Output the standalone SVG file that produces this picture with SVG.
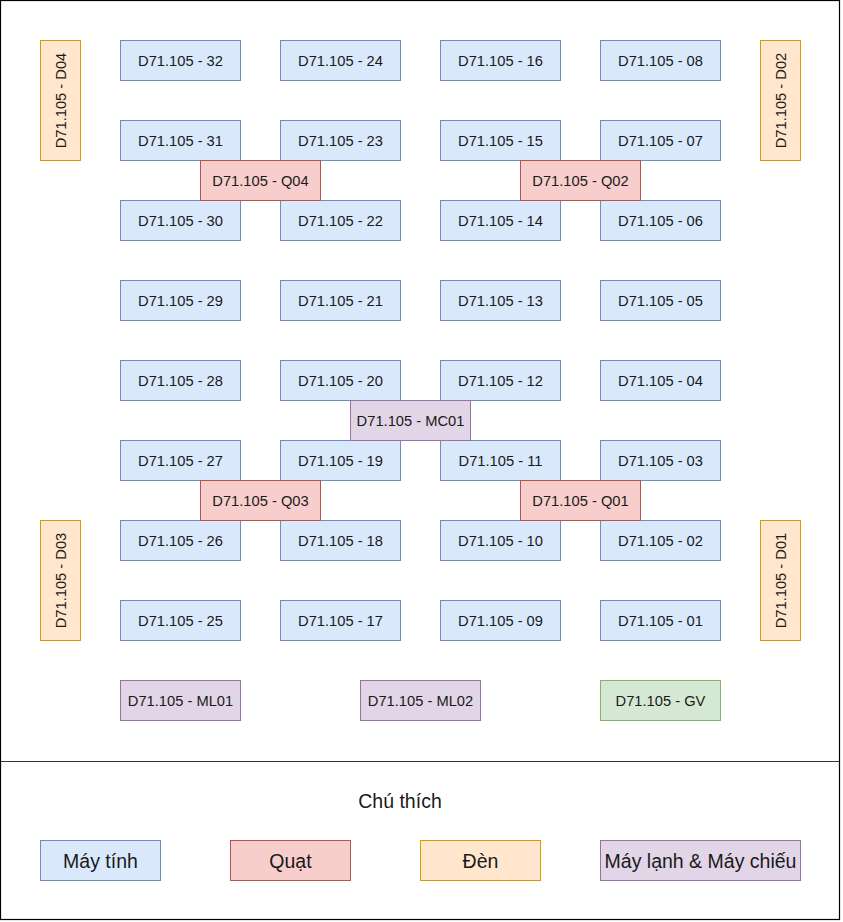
<svg xmlns="http://www.w3.org/2000/svg" width="843" height="922" viewBox="0 0 843 922">
<style>
text{font-family:"Liberation Sans",Arial,sans-serif;fill:#1a1a1a;text-anchor:middle;dominant-baseline:central}
.n{font-size:14.7px}
.l{font-size:19.5px}
.pc{fill:#dae8fc;stroke:#6c8ebf;stroke-width:1}
.fan{fill:#f8cecc;stroke:#b85450;stroke-width:1}
.lamp{fill:#ffe6cc;stroke:#d79b00;stroke-width:1}
.ac{fill:#e1d5e7;stroke:#9673a6;stroke-width:1}
.gv{fill:#d5e8d4;stroke:#82b366;stroke-width:1}
</style>
<rect x="0" y="0" width="843" height="922" fill="#ffffff"/>
<g id="frame">
<rect x="0.5" y="0.5" width="839" height="919" fill="none" stroke="#000" stroke-width="1.2"/>
<line x1="0.5" y1="761.5" x2="839.5" y2="761.5" stroke="#333" stroke-width="1.2"/>
</g>
<g id="connectors"></g>
<!-- column 1 -->
<g id="pc32"><rect class="pc" x="120.5" y="40.5" width="120" height="40"/><text class="n" x="180.5" y="60.5">D71.105 - 32</text></g>
<g id="pc31"><rect class="pc" x="120.5" y="120.5" width="120" height="40"/><text class="n" x="180.5" y="140.5">D71.105 - 31</text></g>
<g id="pc30"><rect class="pc" x="120.5" y="200.5" width="120" height="40"/><text class="n" x="180.5" y="220.5">D71.105 - 30</text></g>
<g id="pc29"><rect class="pc" x="120.5" y="280.5" width="120" height="40"/><text class="n" x="180.5" y="300.5">D71.105 - 29</text></g>
<g id="pc28"><rect class="pc" x="120.5" y="360.5" width="120" height="40"/><text class="n" x="180.5" y="380.5">D71.105 - 28</text></g>
<g id="pc27"><rect class="pc" x="120.5" y="440.5" width="120" height="40"/><text class="n" x="180.5" y="460.5">D71.105 - 27</text></g>
<g id="pc26"><rect class="pc" x="120.5" y="520.5" width="120" height="40"/><text class="n" x="180.5" y="540.5">D71.105 - 26</text></g>
<g id="pc25"><rect class="pc" x="120.5" y="600.5" width="120" height="40"/><text class="n" x="180.5" y="620.5">D71.105 - 25</text></g>
<!-- column 2 -->
<g id="pc24"><rect class="pc" x="280.5" y="40.5" width="120" height="40"/><text class="n" x="340.5" y="60.5">D71.105 - 24</text></g>
<g id="pc23"><rect class="pc" x="280.5" y="120.5" width="120" height="40"/><text class="n" x="340.5" y="140.5">D71.105 - 23</text></g>
<g id="pc22"><rect class="pc" x="280.5" y="200.5" width="120" height="40"/><text class="n" x="340.5" y="220.5">D71.105 - 22</text></g>
<g id="pc21"><rect class="pc" x="280.5" y="280.5" width="120" height="40"/><text class="n" x="340.5" y="300.5">D71.105 - 21</text></g>
<g id="pc20"><rect class="pc" x="280.5" y="360.5" width="120" height="40"/><text class="n" x="340.5" y="380.5">D71.105 - 20</text></g>
<g id="pc19"><rect class="pc" x="280.5" y="440.5" width="120" height="40"/><text class="n" x="340.5" y="460.5">D71.105 - 19</text></g>
<g id="pc18"><rect class="pc" x="280.5" y="520.5" width="120" height="40"/><text class="n" x="340.5" y="540.5">D71.105 - 18</text></g>
<g id="pc17"><rect class="pc" x="280.5" y="600.5" width="120" height="40"/><text class="n" x="340.5" y="620.5">D71.105 - 17</text></g>
<!-- column 3 -->
<g id="pc16"><rect class="pc" x="440.5" y="40.5" width="120" height="40"/><text class="n" x="500.5" y="60.5">D71.105 - 16</text></g>
<g id="pc15"><rect class="pc" x="440.5" y="120.5" width="120" height="40"/><text class="n" x="500.5" y="140.5">D71.105 - 15</text></g>
<g id="pc14"><rect class="pc" x="440.5" y="200.5" width="120" height="40"/><text class="n" x="500.5" y="220.5">D71.105 - 14</text></g>
<g id="pc13"><rect class="pc" x="440.5" y="280.5" width="120" height="40"/><text class="n" x="500.5" y="300.5">D71.105 - 13</text></g>
<g id="pc12"><rect class="pc" x="440.5" y="360.5" width="120" height="40"/><text class="n" x="500.5" y="380.5">D71.105 - 12</text></g>
<g id="pc11"><rect class="pc" x="440.5" y="440.5" width="120" height="40"/><text class="n" x="500.5" y="460.5">D71.105 - 11</text></g>
<g id="pc10"><rect class="pc" x="440.5" y="520.5" width="120" height="40"/><text class="n" x="500.5" y="540.5">D71.105 - 10</text></g>
<g id="pc09"><rect class="pc" x="440.5" y="600.5" width="120" height="40"/><text class="n" x="500.5" y="620.5">D71.105 - 09</text></g>
<!-- column 4 -->
<g id="pc08"><rect class="pc" x="600.5" y="40.5" width="120" height="40"/><text class="n" x="660.5" y="60.5">D71.105 - 08</text></g>
<g id="pc07"><rect class="pc" x="600.5" y="120.5" width="120" height="40"/><text class="n" x="660.5" y="140.5">D71.105 - 07</text></g>
<g id="pc06"><rect class="pc" x="600.5" y="200.5" width="120" height="40"/><text class="n" x="660.5" y="220.5">D71.105 - 06</text></g>
<g id="pc05"><rect class="pc" x="600.5" y="280.5" width="120" height="40"/><text class="n" x="660.5" y="300.5">D71.105 - 05</text></g>
<g id="pc04"><rect class="pc" x="600.5" y="360.5" width="120" height="40"/><text class="n" x="660.5" y="380.5">D71.105 - 04</text></g>
<g id="pc03"><rect class="pc" x="600.5" y="440.5" width="120" height="40"/><text class="n" x="660.5" y="460.5">D71.105 - 03</text></g>
<g id="pc02"><rect class="pc" x="600.5" y="520.5" width="120" height="40"/><text class="n" x="660.5" y="540.5">D71.105 - 02</text></g>
<g id="pc01"><rect class="pc" x="600.5" y="600.5" width="120" height="40"/><text class="n" x="660.5" y="620.5">D71.105 - 01</text></g>
<!-- fans -->
<g id="q04"><rect class="fan" x="200.5" y="160.5" width="120" height="40"/><text class="n" x="260.5" y="180.5">D71.105 - Q04</text></g>
<g id="q02"><rect class="fan" x="520.5" y="160.5" width="120" height="40"/><text class="n" x="580.5" y="180.5">D71.105 - Q02</text></g>
<g id="q03"><rect class="fan" x="200.5" y="480.5" width="120" height="40"/><text class="n" x="260.5" y="500.5">D71.105 - Q03</text></g>
<g id="q01"><rect class="fan" x="520.5" y="480.5" width="120" height="40"/><text class="n" x="580.5" y="500.5">D71.105 - Q01</text></g>
<!-- projector -->
<g id="mc01"><rect class="ac" x="350.5" y="400.5" width="120" height="40"/><text class="n" x="410.5" y="420.5">D71.105 - MC01</text></g>
<!-- lamps -->
<g id="d04"><rect class="lamp" x="40.5" y="40.5" width="40" height="120"/><text class="n" transform="translate(60.5,100.5) rotate(-90)">D71.105 - D04</text></g>
<g id="d02"><rect class="lamp" x="760.5" y="40.5" width="40" height="120"/><text class="n" transform="translate(780.5,100.5) rotate(-90)">D71.105 - D02</text></g>
<g id="d03"><rect class="lamp" x="40.5" y="520.5" width="40" height="120"/><text class="n" transform="translate(60.5,580.5) rotate(-90)">D71.105 - D03</text></g>
<g id="d01"><rect class="lamp" x="760.5" y="520.5" width="40" height="120"/><text class="n" transform="translate(780.5,580.5) rotate(-90)">D71.105 - D01</text></g>
<!-- bottom row -->
<g id="ml01"><rect class="ac" x="120.5" y="680.5" width="120" height="40"/><text class="n" x="180.5" y="700.5">D71.105 - ML01</text></g>
<g id="ml02"><rect class="ac" x="360.5" y="680.5" width="120" height="40"/><text class="n" x="420.5" y="700.5">D71.105 - ML02</text></g>
<g id="gv"><rect class="gv" x="600.5" y="680.5" width="120" height="40"/><text class="n" x="660.5" y="700.5">D71.105 - GV</text></g>
<!-- legend -->
<g id="legend-title"><text class="l" x="400" y="801">Chú thích</text></g>
<g id="legend-pc"><rect class="pc" x="40.5" y="840.5" width="120" height="40"/><text class="l" x="100.5" y="860.5">Máy tính</text></g>
<g id="legend-fan"><rect class="fan" x="230.5" y="840.5" width="120" height="40"/><text class="l" x="290.5" y="860.5">Quạt</text></g>
<g id="legend-lamp"><rect class="lamp" x="420.5" y="840.5" width="120" height="40"/><text class="l" x="480.5" y="860.5">Đèn</text></g>
<g id="legend-ac"><rect class="ac" x="600.5" y="840.5" width="200" height="40"/><text class="l" x="700.5" y="860.5">Máy lạnh &amp; Máy chiếu</text></g>
</svg>
